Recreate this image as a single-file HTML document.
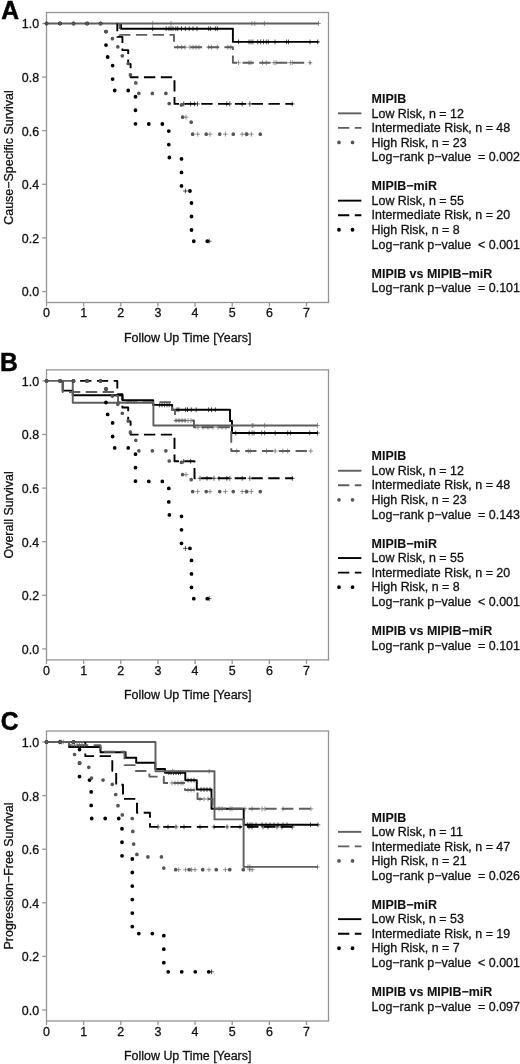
<!DOCTYPE html><html><head><meta charset="utf-8"><style>html,body{margin:0;padding:0;background:#fff;-webkit-font-smoothing:antialiased;}svg{display:block;}text{font-family:"Liberation Sans",sans-serif;stroke:#111;stroke-width:0.3px;}</style></head><body>
<svg style="will-change:transform" width="520" height="1064" viewBox="0 0 520 1064">
<rect width="520" height="1064" fill="#fff"/>
<g transform="translate(0,0.0)">
<text x="0" y="0" font-size="26" font-weight="bold" transform="translate(1.2,19.1) scale(0.95,1)" fill="#000" style="stroke:#000;stroke-width:0.5px">A</text>
<rect x="46.5" y="12.5" width="282" height="290" fill="none" stroke="#949494" stroke-width="1.3"/>
<line x1="42.3" x2="46.5" y1="291.50" y2="291.50" stroke="#949494" stroke-width="1.3"/>
<text x="39.1" y="296.40" font-size="12.45" text-anchor="end" fill="#111">0.0</text>
<line x1="42.3" x2="46.5" y1="237.90" y2="237.90" stroke="#949494" stroke-width="1.3"/>
<text x="39.1" y="242.80" font-size="12.45" text-anchor="end" fill="#111">0.2</text>
<line x1="42.3" x2="46.5" y1="184.30" y2="184.30" stroke="#949494" stroke-width="1.3"/>
<text x="39.1" y="189.20" font-size="12.45" text-anchor="end" fill="#111">0.4</text>
<line x1="42.3" x2="46.5" y1="130.70" y2="130.70" stroke="#949494" stroke-width="1.3"/>
<text x="39.1" y="135.60" font-size="12.45" text-anchor="end" fill="#111">0.6</text>
<line x1="42.3" x2="46.5" y1="77.10" y2="77.10" stroke="#949494" stroke-width="1.3"/>
<text x="39.1" y="82.00" font-size="12.45" text-anchor="end" fill="#111">0.8</text>
<line x1="42.3" x2="46.5" y1="23.50" y2="23.50" stroke="#949494" stroke-width="1.3"/>
<text x="39.1" y="28.40" font-size="12.45" text-anchor="end" fill="#111">1.0</text>
<line x1="46.50" x2="46.50" y1="302.5" y2="306.5" stroke="#949494" stroke-width="1.3"/>
<text x="46.50" y="317.4" font-size="12.45" text-anchor="middle" fill="#111">0</text>
<line x1="83.64" x2="83.64" y1="302.5" y2="306.5" stroke="#949494" stroke-width="1.3"/>
<text x="83.64" y="317.4" font-size="12.45" text-anchor="middle" fill="#111">1</text>
<line x1="120.79" x2="120.79" y1="302.5" y2="306.5" stroke="#949494" stroke-width="1.3"/>
<text x="120.79" y="317.4" font-size="12.45" text-anchor="middle" fill="#111">2</text>
<line x1="157.93" x2="157.93" y1="302.5" y2="306.5" stroke="#949494" stroke-width="1.3"/>
<text x="157.93" y="317.4" font-size="12.45" text-anchor="middle" fill="#111">3</text>
<line x1="195.07" x2="195.07" y1="302.5" y2="306.5" stroke="#949494" stroke-width="1.3"/>
<text x="195.07" y="317.4" font-size="12.45" text-anchor="middle" fill="#111">4</text>
<line x1="232.22" x2="232.22" y1="302.5" y2="306.5" stroke="#949494" stroke-width="1.3"/>
<text x="232.22" y="317.4" font-size="12.45" text-anchor="middle" fill="#111">5</text>
<line x1="269.36" x2="269.36" y1="302.5" y2="306.5" stroke="#949494" stroke-width="1.3"/>
<text x="269.36" y="317.4" font-size="12.45" text-anchor="middle" fill="#111">6</text>
<line x1="306.50" x2="306.50" y1="302.5" y2="306.5" stroke="#949494" stroke-width="1.3"/>
<text x="306.50" y="317.4" font-size="12.45" text-anchor="middle" fill="#111">7</text>
<text x="187.7" y="341.9" font-size="12.45" text-anchor="middle" fill="#111">Follow Up Time [Years]</text>
<text transform="translate(12.75,157.5) rotate(-90)" font-size="12.45" text-anchor="middle" fill="#111">Cause−Specific Survival</text>
<path d="M121.0,23.5 H121.0 V28.7 H232.9 V41.9 H318.5" stroke="#000" stroke-width="1.9" fill="none" stroke-linejoin="round"/>
<path d="M152.7,26.3v4.8M150.4,28.7h4.6M166.2,26.3v4.8M163.9,28.7h4.6M169.0,26.3v4.8M166.7,28.7h4.6M171.0,26.3v4.8M168.7,28.7h4.6M173.0,26.3v4.8M170.7,28.7h4.6M175.8,26.3v4.8M173.5,28.7h4.6M177.7,26.3v4.8M175.4,28.7h4.6M181.5,26.3v4.8M179.2,28.7h4.6M185.4,26.3v4.8M183.1,28.7h4.6M189.2,26.3v4.8M186.9,28.7h4.6M193.0,26.3v4.8M190.7,28.7h4.6M197.0,26.3v4.8M194.7,28.7h4.6M208.7,26.3v4.8M206.4,28.7h4.6M210.6,26.3v4.8M208.3,28.7h4.6M215.4,26.3v4.8M213.1,28.7h4.6M217.3,26.3v4.8M215.0,28.7h4.6M238.5,39.5v4.8M236.2,41.9h4.6M249.0,39.5v4.8M246.7,41.9h4.6M251.0,39.5v4.8M248.7,41.9h4.6M252.9,39.5v4.8M250.6,41.9h4.6M257.7,39.5v4.8M255.4,41.9h4.6M260.6,39.5v4.8M258.3,41.9h4.6M263.5,39.5v4.8M261.2,41.9h4.6M266.3,39.5v4.8M264.0,41.9h4.6M268.3,39.5v4.8M266.0,41.9h4.6M275.0,39.5v4.8M272.7,41.9h4.6M286.5,39.5v4.8M284.2,41.9h4.6M288.5,39.5v4.8M286.2,41.9h4.6M310.0,39.5v4.8M307.7,41.9h4.6M317.7,39.5v4.8M315.4,41.9h4.6" stroke="#000" stroke-width="0.9" stroke-opacity="0.75" fill="none"/>
<path d="M46.5,23.5 H318.5" stroke="#5e5e5e" stroke-width="1.9" fill="none" stroke-linejoin="round"/>
<path d="M152.7,21.1v4.8M150.4,23.5h4.6M171.0,21.1v4.8M168.7,23.5h4.6M251.9,21.1v4.8M249.6,23.5h4.6M254.8,21.1v4.8M252.5,23.5h4.6M264.4,21.1v4.8M262.1,23.5h4.6M318.5,21.1v4.8M316.2,23.5h4.6" stroke="#5e5e5e" stroke-width="0.9" stroke-opacity="0.75" fill="none"/>
<path d="M117.3,23.5 H117.3 V36.9 H122.4 V50.1 H128.2 V64.0 H130.6 V77.2 H174.5 V103.9 H293" stroke="#000" stroke-width="1.9" fill="none" stroke-dasharray="11.3 5.5" stroke-linejoin="round" stroke-dashoffset="70.80"/>
<path d="M183.7,101.5v4.8M181.4,103.9h4.6M190.6,101.5v4.8M188.3,103.9h4.6M194.5,101.5v4.8M192.2,103.9h4.6M197.5,101.5v4.8M195.2,103.9h4.6M226.8,101.5v4.8M224.5,103.9h4.6M229.8,101.5v4.8M227.5,103.9h4.6M242.2,101.5v4.8M239.9,103.9h4.6M249.8,101.5v4.8M247.5,103.9h4.6M292.3,101.5v4.8M290.0,103.9h4.6" stroke="#000" stroke-width="0.9" stroke-opacity="0.75" fill="none"/>
<path d="M119.6,23.5 H119.6 V34.9 H174 V47.2 H232.9 V62.7 H310.8" stroke="#5e5e5e" stroke-width="1.9" fill="none" stroke-dasharray="11.3 5.5" stroke-linejoin="round" stroke-dashoffset="73.10"/>
<path d="M177.7,44.8v4.8M175.4,47.2h4.6M181.5,44.8v4.8M179.2,47.2h4.6M185.0,44.8v4.8M182.7,47.2h4.6M190.0,44.8v4.8M187.7,47.2h4.6M193.0,44.8v4.8M190.7,47.2h4.6M196.0,44.8v4.8M193.7,47.2h4.6M199.0,44.8v4.8M196.7,47.2h4.6M208.7,44.8v4.8M206.4,47.2h4.6M211.5,44.8v4.8M209.2,47.2h4.6M217.3,44.8v4.8M215.0,47.2h4.6M227.9,44.8v4.8M225.6,47.2h4.6M230.8,44.8v4.8M228.5,47.2h4.6M238.5,60.3v4.8M236.2,62.7h4.6M249.0,60.3v4.8M246.7,62.7h4.6M251.0,60.3v4.8M248.7,62.7h4.6M262.5,60.3v4.8M260.2,62.7h4.6M266.3,60.3v4.8M264.0,62.7h4.6M274.0,60.3v4.8M271.7,62.7h4.6M276.0,60.3v4.8M273.7,62.7h4.6M290.4,60.3v4.8M288.1,62.7h4.6M292.3,60.3v4.8M290.0,62.7h4.6M310.0,60.3v4.8M307.7,62.7h4.6" stroke="#5e5e5e" stroke-width="0.9" stroke-opacity="0.75" fill="none"/>
<path d="M46.5,23.5 H106 V57 H112.6 V90.5 H135.5 V124 H168.8 V157.5 H181.5 V191 H191.5 V241.25 H209.2" stroke="#000" stroke-width="3.8" fill="none" stroke-dasharray="0 13.52" stroke-linecap="round"/>
<path d="M185.4,188.6v4.8M183.1,191.0h4.6M209.2,238.8v4.8M206.9,241.2h4.6" stroke="#000" stroke-width="0.9" stroke-opacity="0.75" fill="none"/>
<path d="M46.5,23.5 H106 V35.1 H112.4 V46.8 H122.3 V58.4 H128.2 V70.1 H130.4 V81.7 H135.8 V93.4 H169.2 V104.9 H181.4 V117.2 H191.2 V134.2 H260.8" stroke="#555" stroke-width="3.7" fill="none" stroke-dasharray="0 13.52" stroke-linecap="round"/>
<path d="M186.0,114.8v4.8M183.7,117.2h4.6M197.7,131.8v4.8M195.4,134.2h4.6M210.0,131.8v4.8M207.7,134.2h4.6M225.4,131.8v4.8M223.1,134.2h4.6M242.2,131.8v4.8M239.9,134.2h4.6M246.0,131.8v4.8M243.7,134.2h4.6M251.4,131.8v4.8M249.1,134.2h4.6" stroke="#5e5e5e" stroke-width="0.9" stroke-opacity="0.75" fill="none"/>
<text x="371.6" y="103.00" font-size="12.45" fill="#111" xml:space="preserve"><tspan font-weight="bold" style="stroke-width:0.1px">MIPIB</tspan></text>
<text x="371.6" y="117.55" font-size="12.45" fill="#111" xml:space="preserve">Low Risk, n = 12</text>
<path d="M338.0,113.35 H361.4" stroke="#5e5e5e" stroke-width="1.9" fill="none" stroke-linejoin="round"/>
<text x="371.6" y="132.10" font-size="12.45" fill="#111" xml:space="preserve">Intermediate Risk, n = 48</text>
<path d="M338.0,127.90 H361.4" stroke="#5e5e5e" stroke-width="1.9" fill="none" stroke-dasharray="11.3 5.5" stroke-linejoin="round"/>
<text x="371.6" y="146.65" font-size="12.45" fill="#111" xml:space="preserve">High Risk, n = 23</text>
<path d="M339.0,142.45 H361.4" stroke="#555" stroke-width="3.7" fill="none" stroke-dasharray="0 13.52" stroke-linecap="round"/>
<text x="371.6" y="161.20" font-size="12.45" fill="#111" xml:space="preserve">Log−rank p−value  = 0.002</text>
<text x="371.6" y="190.30" font-size="12.45" fill="#111" xml:space="preserve"><tspan font-weight="bold" style="stroke-width:0.1px">MIPIB−miR</tspan></text>
<text x="371.6" y="204.85" font-size="12.45" fill="#111" xml:space="preserve">Low Risk, n = 55</text>
<path d="M338.0,200.65 H361.4" stroke="#000" stroke-width="1.9" fill="none" stroke-linejoin="round"/>
<text x="371.6" y="219.40" font-size="12.45" fill="#111" xml:space="preserve">Intermediate Risk, n = 20</text>
<path d="M338.0,215.20 H361.4" stroke="#000" stroke-width="1.9" fill="none" stroke-dasharray="11.3 5.5" stroke-linejoin="round"/>
<text x="371.6" y="233.95" font-size="12.45" fill="#111" xml:space="preserve">High Risk, n = 8</text>
<path d="M339.0,229.75 H361.4" stroke="#000" stroke-width="3.8" fill="none" stroke-dasharray="0 13.52" stroke-linecap="round"/>
<text x="371.6" y="248.50" font-size="12.45" fill="#111" xml:space="preserve">Log−rank p−value  &lt; 0.001</text>
<text x="371.6" y="277.60" font-size="12.45" fill="#111" xml:space="preserve"><tspan font-weight="bold" style="stroke-width:0.1px">MIPIB vs MIPIB−miR</tspan></text>
<text x="371.6" y="292.15" font-size="12.45" fill="#111" xml:space="preserve">Log−rank p−value  = 0.101</text>
</g>
<g transform="translate(0,357.4)">
<text x="0" y="0" font-size="26" font-weight="bold" transform="translate(0.0,13.700000000000045) scale(0.95,1)" fill="#000" style="stroke:#000;stroke-width:0.5px">B</text>
<rect x="46.5" y="12.5" width="282" height="290" fill="none" stroke="#949494" stroke-width="1.3"/>
<line x1="42.3" x2="46.5" y1="291.50" y2="291.50" stroke="#949494" stroke-width="1.3"/>
<text x="39.1" y="296.40" font-size="12.45" text-anchor="end" fill="#111">0.0</text>
<line x1="42.3" x2="46.5" y1="237.90" y2="237.90" stroke="#949494" stroke-width="1.3"/>
<text x="39.1" y="242.80" font-size="12.45" text-anchor="end" fill="#111">0.2</text>
<line x1="42.3" x2="46.5" y1="184.30" y2="184.30" stroke="#949494" stroke-width="1.3"/>
<text x="39.1" y="189.20" font-size="12.45" text-anchor="end" fill="#111">0.4</text>
<line x1="42.3" x2="46.5" y1="130.70" y2="130.70" stroke="#949494" stroke-width="1.3"/>
<text x="39.1" y="135.60" font-size="12.45" text-anchor="end" fill="#111">0.6</text>
<line x1="42.3" x2="46.5" y1="77.10" y2="77.10" stroke="#949494" stroke-width="1.3"/>
<text x="39.1" y="82.00" font-size="12.45" text-anchor="end" fill="#111">0.8</text>
<line x1="42.3" x2="46.5" y1="23.50" y2="23.50" stroke="#949494" stroke-width="1.3"/>
<text x="39.1" y="28.40" font-size="12.45" text-anchor="end" fill="#111">1.0</text>
<line x1="46.50" x2="46.50" y1="302.5" y2="306.5" stroke="#949494" stroke-width="1.3"/>
<text x="46.50" y="317.4" font-size="12.45" text-anchor="middle" fill="#111">0</text>
<line x1="83.64" x2="83.64" y1="302.5" y2="306.5" stroke="#949494" stroke-width="1.3"/>
<text x="83.64" y="317.4" font-size="12.45" text-anchor="middle" fill="#111">1</text>
<line x1="120.79" x2="120.79" y1="302.5" y2="306.5" stroke="#949494" stroke-width="1.3"/>
<text x="120.79" y="317.4" font-size="12.45" text-anchor="middle" fill="#111">2</text>
<line x1="157.93" x2="157.93" y1="302.5" y2="306.5" stroke="#949494" stroke-width="1.3"/>
<text x="157.93" y="317.4" font-size="12.45" text-anchor="middle" fill="#111">3</text>
<line x1="195.07" x2="195.07" y1="302.5" y2="306.5" stroke="#949494" stroke-width="1.3"/>
<text x="195.07" y="317.4" font-size="12.45" text-anchor="middle" fill="#111">4</text>
<line x1="232.22" x2="232.22" y1="302.5" y2="306.5" stroke="#949494" stroke-width="1.3"/>
<text x="232.22" y="317.4" font-size="12.45" text-anchor="middle" fill="#111">5</text>
<line x1="269.36" x2="269.36" y1="302.5" y2="306.5" stroke="#949494" stroke-width="1.3"/>
<text x="269.36" y="317.4" font-size="12.45" text-anchor="middle" fill="#111">6</text>
<line x1="306.50" x2="306.50" y1="302.5" y2="306.5" stroke="#949494" stroke-width="1.3"/>
<text x="306.50" y="317.4" font-size="12.45" text-anchor="middle" fill="#111">7</text>
<text x="187.7" y="341.9" font-size="12.45" text-anchor="middle" fill="#111">Follow Up Time [Years]</text>
<text transform="translate(12.75,157.5) rotate(-90)" font-size="12.45" text-anchor="middle" fill="#111">Overall Survival</text>
<path d="M62.7,23.5 H62.7 V33.2 H72.75 V37.9 H122.5 V42.8 H153.2 V47.5 H172.2 V52.3 H230 V63.6 H232 V75.6 H317.5" stroke="#000" stroke-width="1.9" fill="none" stroke-linejoin="round"/>
<path d="M159.6,45.1v4.8M157.3,47.5h4.6M162.0,45.1v4.8M159.7,47.5h4.6M164.5,45.1v4.8M162.2,47.5h4.6M167.0,45.1v4.8M164.7,47.5h4.6M169.2,45.1v4.8M166.9,47.5h4.6M177.0,49.9v4.8M174.7,52.3h4.6M178.8,49.9v4.8M176.5,52.3h4.6M185.6,49.9v4.8M183.3,52.3h4.6M187.5,49.9v4.8M185.2,52.3h4.6M191.3,49.9v4.8M189.0,52.3h4.6M196.2,49.9v4.8M193.9,52.3h4.6M208.6,49.9v4.8M206.3,52.3h4.6M211.5,49.9v4.8M209.2,52.3h4.6M215.4,49.9v4.8M213.1,52.3h4.6M235.8,73.2v4.8M233.5,75.6h4.6M249.2,73.2v4.8M246.9,75.6h4.6M252.1,73.2v4.8M249.8,75.6h4.6M254.0,73.2v4.8M251.7,75.6h4.6M261.7,73.2v4.8M259.4,75.6h4.6M264.6,73.2v4.8M262.3,75.6h4.6M275.2,73.2v4.8M272.9,75.6h4.6M287.7,73.2v4.8M285.4,75.6h4.6M290.6,73.2v4.8M288.3,75.6h4.6M309.8,73.2v4.8M307.5,75.6h4.6M317.5,73.2v4.8M315.2,75.6h4.6" stroke="#000" stroke-width="0.9" stroke-opacity="0.75" fill="none"/>
<path d="M46.5,23.5 H72.75 V45.3 H153.4 V68.1 H317.5" stroke="#5e5e5e" stroke-width="1.9" fill="none" stroke-linejoin="round"/>
<path d="M252.1,65.7v4.8M249.8,68.1h4.6M253.0,65.7v4.8M250.7,68.1h4.6M264.6,65.7v4.8M262.3,68.1h4.6M317.5,65.7v4.8M315.2,68.1h4.6" stroke="#5e5e5e" stroke-width="0.9" stroke-opacity="0.75" fill="none"/>
<path d="M72.75,23.5 H117.3 V36.9 H122.4 V50.1 H128.2 V64.0 H130.6 V77.2 H174.5 V103.9 H194.5 V120.9 H293" stroke="#000" stroke-width="1.9" fill="none" stroke-dasharray="11.3 5.5" stroke-linejoin="round" stroke-dashoffset="26.25"/>
<path d="M183.7,101.5v4.8M181.4,103.9h4.6M190.6,101.5v4.8M188.3,103.9h4.6M200.0,118.5v4.8M197.7,120.9h4.6M207.0,118.5v4.8M204.7,120.9h4.6M214.0,118.5v4.8M211.7,120.9h4.6M219.0,118.5v4.8M216.7,120.9h4.6M226.8,118.5v4.8M224.5,120.9h4.6M229.8,118.5v4.8M227.5,120.9h4.6M242.2,118.5v4.8M239.9,120.9h4.6M249.8,118.5v4.8M247.5,120.9h4.6M292.3,118.5v4.8M290.0,120.9h4.6" stroke="#000" stroke-width="0.9" stroke-opacity="0.75" fill="none"/>
<path d="M62.7,23.5 H62.7 V34.6 H114 V38.5 H118 V44.8 H172 V52.6 H175 V63.1 H194 V69.9 H231.25 V93.6 H311" stroke="#5e5e5e" stroke-width="1.9" fill="none" stroke-dasharray="11.3 5.5" stroke-linejoin="round" stroke-dashoffset="16.20"/>
<path d="M176.0,60.7v4.8M173.7,63.1h4.6M179.0,60.7v4.8M176.7,63.1h4.6M182.0,60.7v4.8M179.7,63.1h4.6M185.0,60.7v4.8M182.7,63.1h4.6M188.0,60.7v4.8M185.7,63.1h4.6M191.0,60.7v4.8M188.7,63.1h4.6M198.0,67.5v4.8M195.7,69.9h4.6M203.0,67.5v4.8M200.7,69.9h4.6M208.0,67.5v4.8M205.7,69.9h4.6M213.0,67.5v4.8M210.7,69.9h4.6M218.0,67.5v4.8M215.7,69.9h4.6M222.0,67.5v4.8M219.7,69.9h4.6M226.0,67.5v4.8M223.7,69.9h4.6M236.7,91.2v4.8M234.4,93.6h4.6M248.3,91.2v4.8M246.0,93.6h4.6M250.2,91.2v4.8M247.9,93.6h4.6M266.5,91.2v4.8M264.2,93.6h4.6M275.2,91.2v4.8M272.9,93.6h4.6M282.9,91.2v4.8M280.6,93.6h4.6M287.7,91.2v4.8M285.4,93.6h4.6M310.8,91.2v4.8M308.5,93.6h4.6" stroke="#5e5e5e" stroke-width="0.9" stroke-opacity="0.75" fill="none"/>
<path d="M46.5,23.5 H106 V57 H112.6 V90.5 H135.5 V124 H168.8 V157.5 H181.5 V191 H191.5 V241.25 H209.2" stroke="#000" stroke-width="3.8" fill="none" stroke-dasharray="0 13.52" stroke-linecap="round"/>
<path d="M185.4,188.6v4.8M183.1,191.0h4.6M209.2,238.8v4.8M206.9,241.2h4.6" stroke="#000" stroke-width="0.9" stroke-opacity="0.75" fill="none"/>
<path d="M46.5,23.5 H106 V35.1 H112.4 V46.8 H122.3 V58.4 H128.2 V70.1 H130.4 V81.7 H135.8 V93.4 H169.2 V104.9 H181.4 V117.2 H191.2 V134.2 H260.8" stroke="#555" stroke-width="3.7" fill="none" stroke-dasharray="0 13.52" stroke-linecap="round"/>
<path d="M186.0,114.8v4.8M183.7,117.2h4.6M197.7,131.8v4.8M195.4,134.2h4.6M210.0,131.8v4.8M207.7,134.2h4.6M225.4,131.8v4.8M223.1,134.2h4.6M242.2,131.8v4.8M239.9,134.2h4.6M246.0,131.8v4.8M243.7,134.2h4.6M251.4,131.8v4.8M249.1,134.2h4.6" stroke="#5e5e5e" stroke-width="0.9" stroke-opacity="0.75" fill="none"/>
<text x="371.6" y="103.00" font-size="12.45" fill="#111" xml:space="preserve"><tspan font-weight="bold" style="stroke-width:0.1px">MIPIB</tspan></text>
<text x="371.6" y="117.55" font-size="12.45" fill="#111" xml:space="preserve">Low Risk, n = 12</text>
<path d="M338.0,113.35 H361.4" stroke="#5e5e5e" stroke-width="1.9" fill="none" stroke-linejoin="round"/>
<text x="371.6" y="132.10" font-size="12.45" fill="#111" xml:space="preserve">Intermediate Risk, n = 48</text>
<path d="M338.0,127.90 H361.4" stroke="#5e5e5e" stroke-width="1.9" fill="none" stroke-dasharray="11.3 5.5" stroke-linejoin="round"/>
<text x="371.6" y="146.65" font-size="12.45" fill="#111" xml:space="preserve">High Risk, n = 23</text>
<path d="M339.0,142.45 H361.4" stroke="#555" stroke-width="3.7" fill="none" stroke-dasharray="0 13.52" stroke-linecap="round"/>
<text x="371.6" y="161.20" font-size="12.45" fill="#111" xml:space="preserve">Log−rank p−value  = 0.143</text>
<text x="371.6" y="190.30" font-size="12.45" fill="#111" xml:space="preserve"><tspan font-weight="bold" style="stroke-width:0.1px">MIPIB−miR</tspan></text>
<text x="371.6" y="204.85" font-size="12.45" fill="#111" xml:space="preserve">Low Risk, n = 55</text>
<path d="M338.0,200.65 H361.4" stroke="#000" stroke-width="1.9" fill="none" stroke-linejoin="round"/>
<text x="371.6" y="219.40" font-size="12.45" fill="#111" xml:space="preserve">Intermediate Risk, n = 20</text>
<path d="M338.0,215.20 H361.4" stroke="#000" stroke-width="1.9" fill="none" stroke-dasharray="11.3 5.5" stroke-linejoin="round"/>
<text x="371.6" y="233.95" font-size="12.45" fill="#111" xml:space="preserve">High Risk, n = 8</text>
<path d="M339.0,229.75 H361.4" stroke="#000" stroke-width="3.8" fill="none" stroke-dasharray="0 13.52" stroke-linecap="round"/>
<text x="371.6" y="248.50" font-size="12.45" fill="#111" xml:space="preserve">Log−rank p−value  &lt; 0.001</text>
<text x="371.6" y="277.60" font-size="12.45" fill="#111" xml:space="preserve"><tspan font-weight="bold" style="stroke-width:0.1px">MIPIB vs MIPIB−miR</tspan></text>
<text x="371.6" y="292.15" font-size="12.45" fill="#111" xml:space="preserve">Log−rank p−value  = 0.101</text>
</g>
<g transform="translate(0,718.5)">
<text x="0" y="0" font-size="26" font-weight="bold" transform="translate(0.7,11.200000000000045) scale(0.95,1)" fill="#000" style="stroke:#000;stroke-width:0.5px">C</text>
<rect x="46.5" y="12.5" width="282" height="290" fill="none" stroke="#949494" stroke-width="1.3"/>
<line x1="42.3" x2="46.5" y1="291.50" y2="291.50" stroke="#949494" stroke-width="1.3"/>
<text x="39.1" y="296.40" font-size="12.45" text-anchor="end" fill="#111">0.0</text>
<line x1="42.3" x2="46.5" y1="237.90" y2="237.90" stroke="#949494" stroke-width="1.3"/>
<text x="39.1" y="242.80" font-size="12.45" text-anchor="end" fill="#111">0.2</text>
<line x1="42.3" x2="46.5" y1="184.30" y2="184.30" stroke="#949494" stroke-width="1.3"/>
<text x="39.1" y="189.20" font-size="12.45" text-anchor="end" fill="#111">0.4</text>
<line x1="42.3" x2="46.5" y1="130.70" y2="130.70" stroke="#949494" stroke-width="1.3"/>
<text x="39.1" y="135.60" font-size="12.45" text-anchor="end" fill="#111">0.6</text>
<line x1="42.3" x2="46.5" y1="77.10" y2="77.10" stroke="#949494" stroke-width="1.3"/>
<text x="39.1" y="82.00" font-size="12.45" text-anchor="end" fill="#111">0.8</text>
<line x1="42.3" x2="46.5" y1="23.50" y2="23.50" stroke="#949494" stroke-width="1.3"/>
<text x="39.1" y="28.40" font-size="12.45" text-anchor="end" fill="#111">1.0</text>
<line x1="46.50" x2="46.50" y1="302.5" y2="306.5" stroke="#949494" stroke-width="1.3"/>
<text x="46.50" y="317.4" font-size="12.45" text-anchor="middle" fill="#111">0</text>
<line x1="83.64" x2="83.64" y1="302.5" y2="306.5" stroke="#949494" stroke-width="1.3"/>
<text x="83.64" y="317.4" font-size="12.45" text-anchor="middle" fill="#111">1</text>
<line x1="120.79" x2="120.79" y1="302.5" y2="306.5" stroke="#949494" stroke-width="1.3"/>
<text x="120.79" y="317.4" font-size="12.45" text-anchor="middle" fill="#111">2</text>
<line x1="157.93" x2="157.93" y1="302.5" y2="306.5" stroke="#949494" stroke-width="1.3"/>
<text x="157.93" y="317.4" font-size="12.45" text-anchor="middle" fill="#111">3</text>
<line x1="195.07" x2="195.07" y1="302.5" y2="306.5" stroke="#949494" stroke-width="1.3"/>
<text x="195.07" y="317.4" font-size="12.45" text-anchor="middle" fill="#111">4</text>
<line x1="232.22" x2="232.22" y1="302.5" y2="306.5" stroke="#949494" stroke-width="1.3"/>
<text x="232.22" y="317.4" font-size="12.45" text-anchor="middle" fill="#111">5</text>
<line x1="269.36" x2="269.36" y1="302.5" y2="306.5" stroke="#949494" stroke-width="1.3"/>
<text x="269.36" y="317.4" font-size="12.45" text-anchor="middle" fill="#111">6</text>
<line x1="306.50" x2="306.50" y1="302.5" y2="306.5" stroke="#949494" stroke-width="1.3"/>
<text x="306.50" y="317.4" font-size="12.45" text-anchor="middle" fill="#111">7</text>
<text x="187.7" y="341.9" font-size="12.45" text-anchor="middle" fill="#111">Follow Up Time [Years]</text>
<text transform="translate(12.75,157.5) rotate(-90)" font-size="12.45" text-anchor="middle" fill="#111">Progression−Free Survival</text>
<path d="M69.1,23.5 H69.1 V28.5 H100.5 V33.8 H125.6 V39.3 H136.2 V44.3 H155.3 V50.5 H165 V54.2 H185.3 V61.7 H196.8 V71.0 H211.5 V90.3 H243.7 V106.3 H318" stroke="#000" stroke-width="1.9" fill="none" stroke-linejoin="round"/>
<path d="M168.8,51.8v4.8M166.5,54.2h4.6M171.0,51.8v4.8M168.7,54.2h4.6M173.5,51.8v4.8M171.2,54.2h4.6M176.0,51.8v4.8M173.7,54.2h4.6M178.5,51.8v4.8M176.2,54.2h4.6M180.4,51.8v4.8M178.1,54.2h4.6M188.0,59.3v4.8M185.7,61.7h4.6M191.0,59.3v4.8M188.7,61.7h4.6M194.0,59.3v4.8M191.7,61.7h4.6M201.0,68.6v4.8M198.7,71.0h4.6M204.0,68.6v4.8M201.7,71.0h4.6M207.0,68.6v4.8M204.7,71.0h4.6M210.0,68.6v4.8M207.7,71.0h4.6M247.7,103.9v4.8M245.4,106.3h4.6M250.0,103.9v4.8M247.7,106.3h4.6M252.0,103.9v4.8M249.7,106.3h4.6M256.0,103.9v4.8M253.7,106.3h4.6M262.0,103.9v4.8M259.7,106.3h4.6M266.0,103.9v4.8M263.7,106.3h4.6M270.0,103.9v4.8M267.7,106.3h4.6M274.0,103.9v4.8M271.7,106.3h4.6M278.0,103.9v4.8M275.7,106.3h4.6M283.0,103.9v4.8M280.7,106.3h4.6M287.0,103.9v4.8M284.7,106.3h4.6M310.5,103.9v4.8M308.2,106.3h4.6M318.0,103.9v4.8M315.7,106.3h4.6" stroke="#000" stroke-width="0.9" stroke-opacity="0.75" fill="none"/>
<path d="M46.5,23.5 H155.5 V52.8 H214.5 V100.9 H243.6 V148.4 H317.5" stroke="#5e5e5e" stroke-width="1.9" fill="none" stroke-linejoin="round"/>
<path d="M59.5,21.1v4.8M57.2,23.5h4.6M61.4,21.1v4.8M59.1,23.5h4.6M63.3,21.1v4.8M61.0,23.5h4.6M172.7,50.4v4.8M170.4,52.8h4.6M209.2,50.4v4.8M206.9,52.8h4.6M248.0,146.0v4.8M245.7,148.4h4.6M250.0,146.0v4.8M247.7,148.4h4.6M317.5,146.0v4.8M315.2,148.4h4.6" stroke="#5e5e5e" stroke-width="0.9" stroke-opacity="0.75" fill="none"/>
<path d="M85.3,23.5 H85.3 V37.6 H112.3 V52.2 H116.2 V66.2 H123 V80.4 H137 V94.3 H150 V108.4 H292.3" stroke="#000" stroke-width="1.9" fill="none" stroke-dasharray="11.3 5.5" stroke-linejoin="round" stroke-dashoffset="38.80"/>
<path d="M158.0,106.0v4.8M155.7,108.4h4.6M168.0,106.0v4.8M165.7,108.4h4.6M176.0,106.0v4.8M173.7,108.4h4.6M184.0,106.0v4.8M181.7,108.4h4.6M200.0,106.0v4.8M197.7,108.4h4.6M214.0,106.0v4.8M211.7,108.4h4.6M227.0,106.0v4.8M224.7,108.4h4.6M240.0,106.0v4.8M237.7,108.4h4.6M249.0,106.0v4.8M246.7,108.4h4.6M252.0,106.0v4.8M249.7,108.4h4.6M263.0,106.0v4.8M260.7,108.4h4.6M268.0,106.0v4.8M265.7,108.4h4.6M277.0,106.0v4.8M274.7,108.4h4.6M282.0,106.0v4.8M279.7,108.4h4.6M292.3,106.0v4.8M290.0,108.4h4.6" stroke="#000" stroke-width="0.9" stroke-opacity="0.75" fill="none"/>
<path d="M69.1,23.5 H69.1 V26.7 H100.5 V33.3 H124.5 V46.6 H135.8 V52.5 H149.4 V58.1 H163.8 V64.5 H185 V71.5 H197.5 V80.5 H212.5 V90.3 H311" stroke="#5e5e5e" stroke-width="1.9" fill="none" stroke-dasharray="11.3 5.5" stroke-linejoin="round" stroke-dashoffset="22.60"/>
<path d="M72.0,24.3v4.8M69.7,26.7h4.6M74.5,24.3v4.8M72.2,26.7h4.6M77.0,24.3v4.8M74.7,26.7h4.6M79.5,24.3v4.8M77.2,26.7h4.6M82.0,24.3v4.8M79.7,26.7h4.6M84.5,24.3v4.8M82.2,26.7h4.6M172.0,62.1v4.8M169.7,64.5h4.6M175.0,62.1v4.8M172.7,64.5h4.6M178.0,62.1v4.8M175.7,64.5h4.6M181.0,62.1v4.8M178.7,64.5h4.6M183.0,62.1v4.8M180.7,64.5h4.6M188.0,69.1v4.8M185.7,71.5h4.6M191.0,69.1v4.8M188.7,71.5h4.6M194.0,69.1v4.8M191.7,71.5h4.6M200.0,78.1v4.8M197.7,80.5h4.6M204.0,78.1v4.8M201.7,80.5h4.6M208.0,78.1v4.8M205.7,80.5h4.6M212.0,78.1v4.8M209.7,80.5h4.6M219.0,87.9v4.8M216.7,90.3h4.6M222.0,87.9v4.8M219.7,90.3h4.6M230.0,87.9v4.8M227.7,90.3h4.6M232.0,87.9v4.8M229.7,90.3h4.6M245.0,87.9v4.8M242.7,90.3h4.6M252.0,87.9v4.8M249.7,90.3h4.6M262.0,87.9v4.8M259.7,90.3h4.6M265.0,87.9v4.8M262.7,90.3h4.6M283.0,87.9v4.8M280.7,90.3h4.6M310.8,87.9v4.8M308.5,90.3h4.6" stroke="#5e5e5e" stroke-width="0.9" stroke-opacity="0.75" fill="none"/>
<path d="M46.5,23.5 H79.5 V61.6 H91.2 V100 H122 V138.4 H132.3 V215.1 H163.8 V253.3 H210.5" stroke="#000" stroke-width="3.8" fill="none" stroke-dasharray="0 13.52" stroke-linecap="round"/>
<path d="M211.5,250.9v4.8M209.2,253.3h4.6" stroke="#000" stroke-width="0.9" stroke-opacity="0.75" fill="none"/>
<path d="M46.5,23.5 H74.2 V36 H79.7 V48.8 H91.5 V61.6 H112.3 V74.4 H115.7 V87.2 H122.3 V100 H132.8 V125.6 H136.9 V138.4 H163.8 V151.2 H252" stroke="#555" stroke-width="3.7" fill="none" stroke-dasharray="0 13.52" stroke-linecap="round"/>
<path d="M178.7,148.8v4.8M176.4,151.2h4.6M185.6,148.8v4.8M183.3,151.2h4.6M191.6,148.8v4.8M189.3,151.2h4.6M195.0,148.8v4.8M192.7,151.2h4.6M209.0,148.8v4.8M206.7,151.2h4.6M225.4,148.8v4.8M223.1,151.2h4.6M249.6,148.8v4.8M247.3,151.2h4.6M252.2,148.8v4.8M249.9,151.2h4.6" stroke="#5e5e5e" stroke-width="0.9" stroke-opacity="0.75" fill="none"/>
<text x="371.6" y="103.00" font-size="12.45" fill="#111" xml:space="preserve"><tspan font-weight="bold" style="stroke-width:0.1px">MIPIB</tspan></text>
<text x="371.6" y="117.55" font-size="12.45" fill="#111" xml:space="preserve">Low Risk, n = 11</text>
<path d="M338.0,113.35 H361.4" stroke="#5e5e5e" stroke-width="1.9" fill="none" stroke-linejoin="round"/>
<text x="371.6" y="132.10" font-size="12.45" fill="#111" xml:space="preserve">Intermediate Risk, n = 47</text>
<path d="M338.0,127.90 H361.4" stroke="#5e5e5e" stroke-width="1.9" fill="none" stroke-dasharray="11.3 5.5" stroke-linejoin="round"/>
<text x="371.6" y="146.65" font-size="12.45" fill="#111" xml:space="preserve">High Risk, n = 21</text>
<path d="M339.0,142.45 H361.4" stroke="#555" stroke-width="3.7" fill="none" stroke-dasharray="0 13.52" stroke-linecap="round"/>
<text x="371.6" y="161.20" font-size="12.45" fill="#111" xml:space="preserve">Log−rank p−value  = 0.026</text>
<text x="371.6" y="190.30" font-size="12.45" fill="#111" xml:space="preserve"><tspan font-weight="bold" style="stroke-width:0.1px">MIPIB−miR</tspan></text>
<text x="371.6" y="204.85" font-size="12.45" fill="#111" xml:space="preserve">Low Risk, n = 53</text>
<path d="M338.0,200.65 H361.4" stroke="#000" stroke-width="1.9" fill="none" stroke-linejoin="round"/>
<text x="371.6" y="219.40" font-size="12.45" fill="#111" xml:space="preserve">Intermediate Risk, n = 19</text>
<path d="M338.0,215.20 H361.4" stroke="#000" stroke-width="1.9" fill="none" stroke-dasharray="11.3 5.5" stroke-linejoin="round"/>
<text x="371.6" y="233.95" font-size="12.45" fill="#111" xml:space="preserve">High Risk, n = 7</text>
<path d="M339.0,229.75 H361.4" stroke="#000" stroke-width="3.8" fill="none" stroke-dasharray="0 13.52" stroke-linecap="round"/>
<text x="371.6" y="248.50" font-size="12.45" fill="#111" xml:space="preserve">Log−rank p−value  &lt; 0.001</text>
<text x="371.6" y="277.60" font-size="12.45" fill="#111" xml:space="preserve"><tspan font-weight="bold" style="stroke-width:0.1px">MIPIB vs MIPIB−miR</tspan></text>
<text x="371.6" y="292.15" font-size="12.45" fill="#111" xml:space="preserve">Log−rank p−value  = 0.097</text>
</g>
</svg></body></html>
